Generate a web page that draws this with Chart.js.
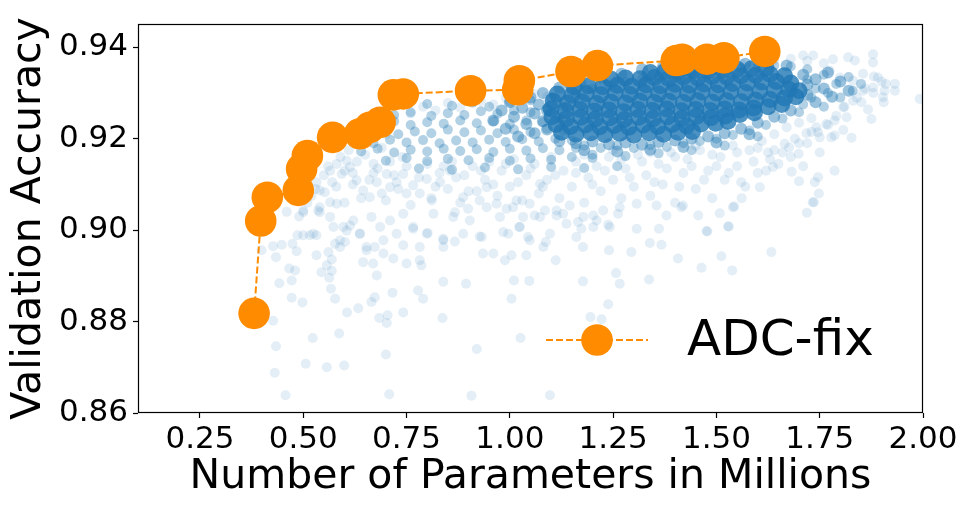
<!DOCTYPE html>
<html>
<head>
<meta charset="utf-8">
<script src="https://cdn.jsdelivr.net/npm/chart.js@4.4.1/dist/chart.umd.min.js"></script>
<style>
html,body{margin:0;padding:0;background:#fff;}
#wrap{width:969px;height:512px;}
</style>
</head>
<body>
<div id="wrap"><canvas id="c" width="969" height="512"></canvas></div>
<script>
// ---- Pareto front (ADC-fix) ----
const paretoX = [0.381,0.397,0.413,0.488,0.496,0.510,0.571,0.637,0.661,0.686,0.718,0.742,0.905,1.019,1.023,1.148,1.212,1.403,1.417,1.477,1.518,1.617];
const paretoY = [0.8818,0.9020,0.9072,0.9087,0.9134,0.9163,0.9203,0.9211,0.9225,0.9236,0.9296,0.9298,0.9305,0.9307,0.9327,0.9347,0.9360,0.9371,0.9374,0.9374,0.9377,0.9391];
const legendLabel = "ADC-fix";

// ---- axis ticks ----
const xTicks = [0.25,0.50,0.75,1.00,1.25,1.50,1.75,2.00];
const yTicks = [0.86,0.88,0.90,0.92,0.94];
const xLabel = "Number of Parameters in Millions";
const yLabel = "Validation Accuracy";

// ---- sampled architectures: sparse / outlying ----
const lightPts = [
[0.399,0.8956],[0.427,0.8965],[0.448,0.8968],[0.434,0.8941],[0.474,0.8970],[0.484,0.8954],[0.486,0.8989],[0.500,0.8989],[0.516,0.8989],[0.532,0.8989],
[0.466,0.8916],[0.480,0.8912],[0.442,0.8884],[0.472,0.8890],[0.472,0.8852],[0.498,0.8842],[0.427,0.8802],[0.523,0.8764],[0.434,0.8746],[0.431,0.8688],
[0.457,0.8639],[0.506,0.8708],[0.557,0.8700],[0.599,0.8704],[0.587,0.8774],[0.606,0.8820],[0.633,0.8829],[0.577,0.8850],[0.567,0.8872],[0.544,0.8908],
[0.563,0.8896],[0.569,0.8911],[0.557,0.8923],[0.569,0.8936],[0.532,0.8945],[0.561,0.8952],[0.577,0.8970],[0.589,0.8963],[0.601,0.8974],[0.597,0.9007],
[0.613,0.9010],[0.637,0.8992],[0.653,0.8956],[0.673,0.8963],[0.694,0.8949],[0.678,0.8901],[0.645,0.8930],[0.669,0.8927],[0.665,0.8843],[0.673,0.8853],
[0.684,0.8808],[0.704,0.8814],[0.702,0.8797],[0.716,0.8863],[0.742,0.8820],[0.700,0.8728],[0.708,0.8641],[0.750,0.8927],[0.782,0.8934],[0.786,0.8923],
[0.778,0.8868],[0.790,0.8850],[0.718,0.8938],[0.742,0.8967],[0.766,0.9003],[0.801,0.8994],[0.839,0.8981],[0.839,0.8963],[0.867,0.8975],[0.839,0.8887],
[0.837,0.8808],[0.894,0.8883],[0.920,0.8740],[0.907,0.8638],[0.927,0.8986],[0.935,0.8949],[0.984,0.8996],[0.988,0.8934],[1.004,0.8945],[1.010,0.8890],
[1.004,0.8850],[1.026,0.8764],[1.023,0.9007],[1.040,0.8945],[1.047,0.8889],[1.044,0.8985],[1.081,0.8963],[1.097,0.8639],[1.111,0.8934],[1.087,0.8974],
[1.177,0.8888],[1.238,0.8838],[1.257,0.8906],[1.266,0.8883],[1.195,0.8810],[1.222,0.8805],[1.240,0.8956],[1.294,0.8952],[1.337,0.8892],[1.339,0.8972],
[1.367,0.8968],[1.361,0.9003],[1.307,0.9003],[1.407,0.8938],[1.464,0.8918],[1.478,0.8997],[1.512,0.8943],[1.530,0.9008],[1.538,0.8912],[1.633,0.8952],
[1.719,0.9038],[1.733,0.9061],[1.165,0.9018],[1.173,0.9003],[1.177,0.8963],[1.210,0.9021],[1.238,0.9012],[1.202,0.9032],[1.032,0.9029],[1.060,0.9032],
[1.085,0.9043],[1.113,0.9032],[1.129,0.9036],[1.145,0.9054],[1.262,0.9036],[1.307,0.9058],[1.355,0.9054],[1.379,0.9032],[1.419,0.9054],[1.456,0.9032],
[1.508,0.9037],[1.543,0.9052],
[1.879,0.9385],[1.879,0.9367],[1.881,0.9336],[1.910,0.9320],[1.932,0.9320],[1.932,0.9305],[1.903,0.9291],[1.905,0.9280],[1.875,0.9243],[1.867,0.9264],
[1.851,0.9280],[1.815,0.9247],[1.827,0.9202],[1.807,0.9219],[1.786,0.9207],[1.778,0.9203],[1.750,0.9203],[1.746,0.9214],[1.718,0.9212],[1.786,0.9130],
[1.746,0.9116],[1.738,0.9105],[1.748,0.9080],[1.736,0.9061],[1.700,0.9107],[1.682,0.9128],[1.605,0.9094],[1.637,0.9138],[1.699,0.9167],[1.676,0.9181],
[1.665,0.9189],[1.625,0.9170],[1.561,0.9070],[1.540,0.9050],[1.528,0.9008],[1.476,0.8998],[1.415,0.9050],[1.992,0.9287],
[1.710,0.9382],[1.734,0.9382],[1.782,0.9374],[1.819,0.9378],[1.835,0.9371],[1.855,0.9342],[1.831,0.9327],[1.799,0.9334],[1.774,0.9349],[1.879,0.9312],
[1.891,0.9334],[1.907,0.9305],[1.855,0.9305],[1.831,0.9283],[1.807,0.9269],[1.786,0.9240],[1.766,0.9232],[1.742,0.9225],
[0.500,0.9043],[0.536,0.9043],[0.565,0.9061],[0.581,0.9058],[0.532,0.9105],[0.540,0.9087],[0.552,0.9083],[0.565,0.9130],[0.581,0.9145],[0.593,0.9123],
[0.605,0.9152],[0.613,0.9138],[0.629,0.9109],[0.645,0.9087],[0.661,0.9072],[0.678,0.9105],[0.690,0.9080],[0.702,0.9123],[0.710,0.9094],[0.726,0.9105],
[0.742,0.9123],[0.750,0.9080],[0.766,0.9098],[0.782,0.9080],[0.799,0.9112],[0.811,0.9065],[0.831,0.9105],[0.855,0.9130],[0.867,0.9039],[0.887,0.9072],
[0.899,0.9047],[0.927,0.9065],[0.944,0.9094],[0.968,0.9058],[0.992,0.9047],[1.016,0.9065],[1.048,0.9058],[1.073,0.9101],
[0.500,0.9039],[0.524,0.8992],[0.540,0.9039],[0.565,0.9029],[0.573,0.9007],[0.589,0.8978],[0.605,0.8999],[0.621,0.9021],[0.637,0.8992],[0.653,0.8963],
[0.665,0.9029],[0.686,0.9007],[0.694,0.8978],[0.710,0.9021],[0.726,0.8992],[0.742,0.9036],[0.766,0.9007],[0.782,0.8963],[0.799,0.8992],[0.815,0.9036],
[0.839,0.8978],[0.863,0.9029],[0.887,0.8992],[0.903,0.9021],[0.932,0.8985],[0.944,0.9050],[0.960,0.8949],[0.976,0.9029],[0.996,0.8992],[1.008,0.9050],
[1.024,0.9007],[1.048,0.8978],[1.073,0.9029],[1.097,0.8992],[1.113,0.9043],[1.137,0.9014],[1.161,0.8985],[1.178,0.9029],[1.202,0.9007],[1.226,0.9043],
[1.242,0.9007],[1.266,0.9050],
[0.52,0.9075],[0.55,0.9120],[0.58,0.9095],[0.60,0.9060],[0.62,0.9125],[0.64,0.9070],[0.66,0.9110],[0.68,0.9135],[0.70,0.9065],[0.71,0.9150],
[0.73,0.9090],[0.75,0.9140],[0.76,0.9055],[0.78,0.9115],[0.80,0.9145],[0.81,0.9070],[0.83,0.9125],[0.85,0.9090],[0.86,0.9150],[0.88,0.9060],
[0.89,0.9120],[0.91,0.9140],[0.92,0.9085],[0.94,0.9110],[0.95,0.9150],[0.97,0.9075],[0.98,0.9130],[1.00,0.9095],[1.01,0.9155],[1.03,0.9065],
[1.04,0.9120],[1.06,0.9145],[1.07,0.9080],[1.09,0.9110],[1.10,0.9160],[1.12,0.9070],[1.13,0.9130],[1.15,0.9095],[1.16,0.9150],[1.18,0.9060],
[1.19,0.9115],[1.21,0.9140],[1.22,0.9085],[1.24,0.9160],[1.25,0.9110],[1.27,0.9070],[1.28,0.9135],[1.30,0.9095],[1.31,0.9165],[1.33,0.9120],
[1.34,0.9075],[1.36,0.9145],[1.37,0.9100],[1.39,0.9170],[1.40,0.9060],[1.42,0.9125],[1.43,0.9155],[1.45,0.9090],[1.46,0.9175],[1.48,0.9130],
[1.49,0.9070],[1.51,0.9160],[1.52,0.9110],[1.54,0.9185],[1.55,0.9140],[1.57,0.9095],[1.58,0.9175],[1.60,0.9125],[1.61,0.9195],[1.63,0.9155],
[1.64,0.9210],[1.66,0.9170],[1.67,0.9225],[1.69,0.9200],[1.70,0.9235],[1.72,0.9190],[1.73,0.9245],
[0.46,0.9040],[0.47,0.9075],[0.49,0.9030],[0.51,0.9060],[0.53,0.9090],[0.54,0.9050],[0.56,0.9140],[0.57,0.9105],[0.59,0.9160],[0.60,0.9130],
[0.61,0.9175],[0.63,0.9150],[0.63,0.9190],[0.65,0.9165],[0.66,0.9200],[0.67,0.9145],[0.69,0.9180],[0.70,0.9210],
[0.76,0.9255],[0.79,0.9270],[0.82,0.9262],[0.85,0.9278],[0.88,0.9268],[0.93,0.9282],[0.96,0.9275],[0.99,0.9290],[1.03,0.9285],[1.06,0.9298],
[1.09,0.9292],[1.12,0.9305],[1.15,0.9312],[1.18,0.9318],[1.22,0.9326],[1.26,0.9332],[1.29,0.9338],[1.33,0.9340],[1.37,0.9347],[1.40,0.9352],
[1.44,0.9350],[1.48,0.9356],[1.52,0.9360],[1.56,0.9364],[1.60,0.9368],[1.64,0.9372],[1.68,0.9375],[1.72,0.9370],[1.76,0.9365],
[1.16,0.9125],[1.18,0.9165],[1.20,0.9100],[1.23,0.9130],[1.25,0.9175],[1.27,0.9155],[1.29,0.9115],[1.32,0.9150],[1.34,0.9170],[1.35,0.9105],
[1.38,0.9135],[1.40,0.9160],[1.41,0.9095],[1.44,0.9140],[1.45,0.9185],[1.47,0.9110],[1.49,0.9165],[1.50,0.9140],[1.53,0.9125],[1.55,0.9170],
[1.56,0.9105],[1.59,0.9150],[1.60,0.9180],[1.62,0.9130],[1.64,0.9175],[1.65,0.9145],[1.68,0.9160],[1.70,0.9190],[1.71,0.9140],[1.73,0.9215],
[1.75,0.9170],[1.77,0.9230],[1.79,0.9250],[1.81,0.9270],[1.84,0.9290],[1.86,0.9310],[1.88,0.9300],[1.90,0.9325],
[0.82,0.9095],[0.87,0.9115],[0.90,0.9085],[0.93,0.9130],[0.96,0.9100],[0.99,0.9145],[1.02,0.9105],[1.05,0.9135],[1.08,0.9095],[1.11,0.9120],
[0.84,0.9140],[0.72,0.9120],[0.74,0.9160],[0.67,0.9125],[0.62,0.9100]
];

// ---- sampled architectures: medium-density band ----
const midPts = [
[0.80,0.9276],[0.86,0.9272],[0.91,0.9279],[0.95,0.9270],[1.00,0.9281],[1.05,0.9284],[1.10,0.9290],
[0.72,0.9252],[0.76,0.9258],[0.81,0.9250],[0.85,0.9256],[0.89,0.9252],[0.93,0.9260],[0.97,0.9255],[1.01,0.9262],[1.05,0.9258],[1.09,0.9266],[1.13,0.9270],
[0.68,0.9232],[0.72,0.9238],[0.76,0.9230],[0.80,0.9236],[0.84,0.9233],[0.88,0.9240],[0.92,0.9234],[0.96,0.9238],[1.00,0.9232],[1.04,0.9240],[1.08,0.9236],[1.12,0.9244],
[0.65,0.9212],[0.69,0.9218],[0.73,0.9210],[0.77,0.9216],[0.81,0.9212],[0.85,0.9220],[0.89,0.9214],[0.93,0.9218],[0.97,0.9212],[1.01,0.9220],[1.05,0.9215],[1.09,0.9222],[1.13,0.9218],
[0.63,0.9195],[0.67,0.9190],[0.71,0.9198],[0.75,0.9192],[0.79,0.9197],[0.83,0.9190],[0.87,0.9196],[0.91,0.9192],[0.95,0.9198],[0.99,0.9193],[1.03,0.9199],[1.07,0.9194],[1.11,0.9200],[1.15,0.9196],
[0.64,0.9172],[0.68,0.9178],[0.72,0.9170],[0.76,0.9176],[0.80,0.9172],[0.84,0.9178],[0.88,0.9173],[0.92,0.9177],[0.96,0.9171],[1.00,0.9178],[1.04,0.9174],[1.08,0.9179],[1.12,0.9175],[1.16,0.9180],
[0.70,0.9152],[0.75,0.9158],[0.80,0.9151],[0.85,0.9156],[0.90,0.9153],[0.95,0.9158],[1.00,0.9152],[1.05,0.9157],[1.10,0.9154],[1.15,0.9160],[1.20,0.9158],
[0.78,0.9135],[0.86,0.9132],[0.94,0.9137],[1.02,0.9133],[1.10,0.9138],[1.18,0.9136],[1.26,0.9140],
[1.16,0.9300],[1.20,0.9310],[1.24,0.9318],[1.28,0.9324],[1.32,0.9330],[1.36,0.9335],[1.40,0.9340],[1.44,0.9343],[1.48,0.9347],[1.52,0.9350],[1.56,0.9354],[1.60,0.9358],[1.64,0.9360],[1.68,0.9358],[1.72,0.9352],
[1.18,0.9185],[1.22,0.9180],[1.26,0.9185],[1.30,0.9180],[1.34,0.9186],[1.38,0.9182],[1.42,0.9190],[1.46,0.9195],[1.50,0.9200],[1.54,0.9208],[1.58,0.9218],[1.62,0.9230],[1.66,0.9244],[1.70,0.9258],
[1.20,0.9165],[1.28,0.9162],[1.36,0.9168],[1.44,0.9175],[1.52,0.9185],[1.60,0.9205],
[1.72,0.9330],[1.74,0.9310],[1.73,0.9290],[1.76,0.9340],[1.77,0.9300],[1.79,0.9320],[1.80,0.9290],[1.82,0.9335],[1.83,0.9305],[1.85,0.9320],[1.76,0.9270],[1.71,0.9275]
];

// ---- sampled architectures: dense ring around the core ----
const densePts = [
[0.96,0.9240],[0.98,0.9262],[0.99,0.9222],[1.00,0.9280],[1.01,0.9248],[1.02,0.9205],[1.03,0.9268],[1.04,0.9232],[1.05,0.9290],[1.06,0.9212],
[1.06,0.9255],[1.07,0.9275],[1.08,0.9238],[1.08,0.9300],[1.09,0.9220],[1.09,0.9262],
[1.12,0.9195],[1.16,0.9190],[1.20,0.9194],[1.24,0.9188],[1.28,0.9192],[1.32,0.9187],[1.36,0.9193],[1.40,0.9196],[1.44,0.9200],[1.48,0.9205],
[1.52,0.9212],[1.56,0.9222],[1.60,0.9235],[1.64,0.9248],[1.68,0.9262],[1.18,0.9175],[1.26,0.9172],[1.34,0.9176],[1.42,0.9182],[1.50,0.9192],[1.58,0.9210],
[1.12,0.9312],[1.17,0.9322],[1.22,0.9334],[1.27,0.9342],[1.32,0.9352],[1.37,0.9356],[1.42,0.9358],[1.47,0.9360],[1.52,0.9362],[1.57,0.9364],[1.62,0.9366],[1.67,0.9360],
[1.71,0.9340],[1.72,0.9318],[1.72,0.9296],[1.74,0.9330],[1.74,0.9280],[1.76,0.9310],[1.77,0.9345],[1.78,0.9292],[1.80,0.9325],[1.82,0.9305]
];

// ---- sampled architectures: dense core ----
const corePts = [
[1.125,0.9214],[1.160,0.9210],[1.196,0.9213],[1.230,0.9209],[1.266,0.9212],[1.300,0.9208],[1.337,0.9213],[1.372,0.9210],[1.407,0.9214],[1.442,0.9216],
[1.112,0.9231],[1.147,0.9227],[1.183,0.9230],[1.218,0.9226],[1.253,0.9229],[1.288,0.9225],[1.323,0.9230],[1.358,0.9227],[1.393,0.9231],[1.428,0.9228],[1.463,0.9232],[1.498,0.9234],[1.528,0.9238],
[1.102,0.9248],[1.137,0.9244],[1.172,0.9247],[1.207,0.9243],[1.242,0.9246],[1.277,0.9242],[1.312,0.9247],[1.347,0.9244],[1.382,0.9248],[1.417,0.9245],[1.452,0.9249],[1.487,0.9246],[1.522,0.9250],[1.557,0.9253],[1.592,0.9257],
[1.100,0.9265],[1.135,0.9261],[1.170,0.9264],[1.205,0.9260],[1.240,0.9263],[1.275,0.9259],[1.310,0.9264],[1.345,0.9262],[1.380,0.9265],[1.415,0.9261],[1.450,0.9264],[1.485,0.9262],[1.520,0.9265],[1.555,0.9263],[1.590,0.9267],[1.625,0.9270],[1.658,0.9275],
[1.105,0.9282],[1.140,0.9278],[1.175,0.9281],[1.210,0.9277],[1.245,0.9280],[1.280,0.9278],[1.315,0.9282],[1.350,0.9279],[1.385,0.9282],[1.420,0.9279],[1.455,0.9283],[1.490,0.9280],[1.525,0.9283],[1.560,0.9281],[1.595,0.9284],[1.630,0.9286],[1.665,0.9289],[1.692,0.9292],
[1.115,0.9298],[1.150,0.9295],[1.185,0.9299],[1.220,0.9296],[1.255,0.9300],[1.290,0.9297],[1.325,0.9301],[1.360,0.9298],[1.395,0.9302],[1.430,0.9299],[1.465,0.9302],[1.500,0.9300],[1.535,0.9303],[1.570,0.9301],[1.605,0.9304],[1.640,0.9306],[1.675,0.9308],[1.700,0.9305],
[1.155,0.9313],[1.190,0.9316],[1.225,0.9314],[1.260,0.9317],[1.295,0.9315],[1.330,0.9318],[1.365,0.9316],[1.400,0.9319],[1.435,0.9317],[1.470,0.9320],[1.505,0.9318],[1.540,0.9321],[1.575,0.9322],[1.610,0.9324],[1.645,0.9325],[1.680,0.9322],
[1.245,0.9330],[1.280,0.9333],[1.315,0.9331],[1.350,0.9334],[1.385,0.9332],[1.420,0.9335],[1.455,0.9333],[1.490,0.9336],[1.525,0.9335],[1.560,0.9338],[1.595,0.9339],[1.630,0.9341],[1.665,0.9338],
[1.340,0.9345],[1.375,0.9347],[1.410,0.9346],[1.445,0.9349],[1.480,0.9348],[1.515,0.9350],[1.550,0.9352],[1.585,0.9353],[1.620,0.9354]
];

const FONT = "'DejaVu Sans', 'Liberation Sans', sans-serif";
const BLUE = 'rgba(31,119,180,';
const ORANGE = '#ff8c00';
const toXY = a => a.map(p => ({x: p[0], y: p[1]}));

const boxLegendPlugin = {
  id: 'boxLegend',
  afterDatasetsDraw(chart) {
    const {ctx, chartArea: ca} = chart;
    ctx.save();
    ctx.strokeStyle = '#000';
    ctx.lineWidth = 1.2;
    ctx.strokeRect(ca.left + 0.5, ca.top + 0.5, ca.right - ca.left - 1, ca.bottom - ca.top - 1);
    const ly = ca.bottom - 73;
    const lx0 = ca.right - 377, lx1 = ca.right - 275;
    ctx.strokeStyle = ORANGE;
    ctx.lineWidth = 2;
    ctx.setLineDash([7, 3]);
    ctx.beginPath();
    ctx.moveTo(lx0, ly); ctx.lineTo(lx1, ly);
    ctx.stroke();
    ctx.setLineDash([]);
    ctx.fillStyle = ORANGE;
    ctx.beginPath();
    ctx.arc((lx0 + lx1) / 2, ly, 15.8, 0, Math.PI * 2);
    ctx.fill();
    ctx.fillStyle = '#000';
    ctx.font = "50px " + FONT;
    ctx.textBaseline = 'middle';
    ctx.textAlign = 'left';
    ctx.fillText(legendLabel, ca.right - 236, ly + 2);
    ctx.restore();
  }
};

Chart.defaults.font.family = FONT;
Chart.defaults.color = '#000';

const cloud = (label, pts, r, a, order) => ({
  label, data: toXY(pts), pointRadius: r, pointHoverRadius: r,
  pointBackgroundColor: BLUE + a + ')', pointBorderWidth: 0, order
});

new Chart(document.getElementById('c'), {
  type: 'scatter',
  data: {
    datasets: [
      {
        label: legendLabel,
        data: paretoX.map((x, i) => ({x, y: paretoY[i]})),
        showLine: true,
        borderColor: ORANGE,
        borderWidth: 2,
        borderDash: [7, 3],
        pointRadius: 15.8,
        pointBackgroundColor: ORANGE,
        pointBorderWidth: 0,
        pointHoverRadius: 15.8,
        order: 0
      },
      cloud('core', corePts, 8.5, 0.8, 1),
      cloud('dense', densePts, 6, 0.45, 2),
      cloud('mid', midPts, 5, 0.34, 3),
      cloud('light', lightPts, 5, 0.12, 4)
    ]
  },
  options: {
    responsive: false,
    animation: false,
    devicePixelRatio: 1,
    events: [],
    layout: { padding: { top: 24, right: 46, left: 0, bottom: 0 } },
    plugins: { legend: { display: false }, tooltip: { enabled: false } },
    scales: {
      x: {
        type: 'linear',
        position: 'bottom',
        min: 0.1,
        max: 2.0,
        afterBuildTicks: s => { s.ticks = xTicks.map(v => ({value: v})); },
        afterFit: s => { s.height = 99; },
        ticks: {
          font: { size: 31 },
          color: '#000',
          padding: 3,
          maxRotation: 0,
          autoSkip: false,
          callback: v => Number(v).toFixed(2)
        },
        grid: { drawOnChartArea: false, drawTicks: true, tickLength: 5, color: '#000', tickWidth: 1.2 },
        border: { display: false },
        title: { display: true, text: xLabel, font: { size: 41, lineHeight: 1.2 }, color: '#000', padding: { top: 0, bottom: 10 } }
      },
      y: {
        type: 'linear',
        position: 'left',
        min: 0.86,
        max: 0.9451,
        afterBuildTicks: s => { s.ticks = yTicks.map(v => ({value: v})); },
        afterFit: s => { s.width = 138; },
        ticks: {
          font: { size: 31 },
          color: '#000',
          padding: 5,
          autoSkip: false,
          callback: v => Number(v).toFixed(2)
        },
        grid: { drawOnChartArea: false, drawTicks: true, tickLength: 5, color: '#000', tickWidth: 1.2 },
        border: { display: false },
        title: { display: true, text: yLabel, font: { size: 41, lineHeight: 1.2 }, color: '#000', padding: { top: 5, bottom: 0 } }
      }
    }
  },
  plugins: [boxLegendPlugin]
});
</script>
</body>
</html>
